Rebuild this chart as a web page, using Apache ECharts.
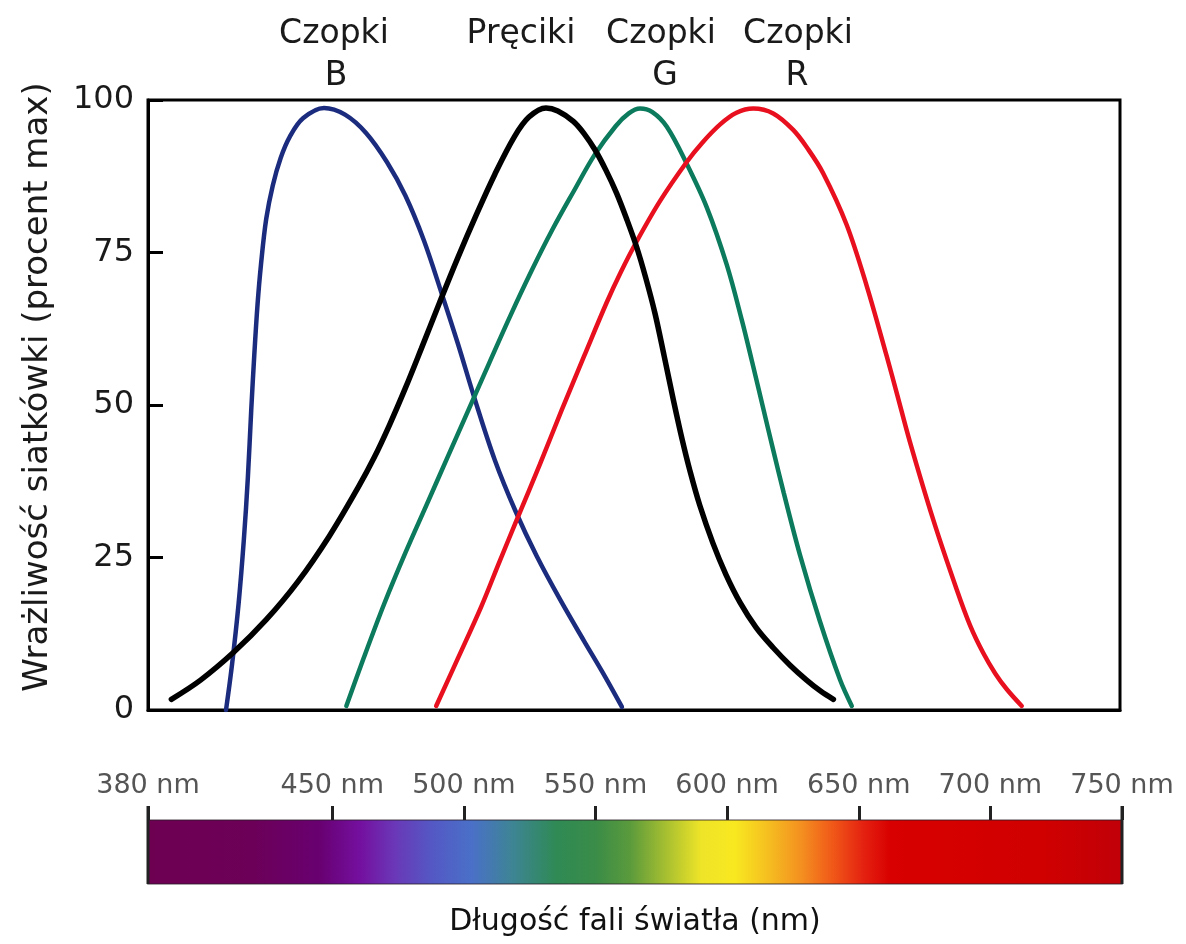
<!DOCTYPE html>
<html>
<head>
<meta charset="utf-8">
<script src="https://cdn.jsdelivr.net/npm/echarts@6/dist/echarts.min.js"></script>
<style>
html,body{margin:0;padding:0;background:#fff;}
#chart{width:1186px;height:944px;}
</style>
</head>
<body>
<div id="chart"></div>
<script>
// ---- data (wavelength nm, sensitivity % of max) ----
var coneB = [[409.7,0],[412,7.5],[414.5,17.5],[416.5,28],[418,38],[419.3,49.2],[420.5,58.5],[421.7,66.5],[423,73],[425,80.5],[427.5,86],[430.5,90.5],[434,94],[439,97],[447,98.7],[455,97.6],[463,94.6],[471,89.8],[478,84.3],[485,77],[492,68],[498,60],[504,51.5],[512,41],[520,32.5],[528,25.2],[537,18],[546,11.3],[553,6.2],[560.4,0.5]];
var rods = [[388.9,1.75],[400,4.9],[412.7,9.5],[425,14.8],[437,21],[449,28.5],[460,36.5],[466,41.3],[472,46.8],[478,52.8],[484,59.2],[491,66.8],[498,74.2],[505,81.2],[512,87.8],[519.5,94],[525,97.2],[531.5,98.7],[536,98.2],[541.9,96.5],[546,94.5],[550.2,91.8],[554.3,88.5],[558.4,84.7],[562.2,80.5],[566,75.9],[569.5,70.8],[573,65],[576.5,58],[580,50.8],[583.3,44.4],[586.3,39.2],[590,33.6],[595,27.4],[600,22.2],[605.4,17.6],[611.5,13.5],[618,10.2],[624.5,7.3],[630.7,4.9],[636,3.1],[640.9,1.75]];
var coneG = [[455.5,0.66],[462,8.4],[470,17.5],[478,25.8],[486,33.6],[494,41.4],[502,49.2],[510,57],[518,64.7],[526,72],[534,78.8],[542,85],[550,91],[558,95.7],[563,97.8],[567.3,98.6],[572,98],[577.5,95.6],[585,89.6],[592.7,82.4],[600.3,73],[606,64],[610,57],[614,49.8],[618,42.6],[622,35.6],[628.2,25.4],[635.8,14.5],[643.4,5],[647.9,0.66]];
var coneR = [[489.7,0.66],[498,8.5],[506.9,17],[513.5,24],[520.2,31],[529.2,40.3],[537.5,49.2],[546,58],[554.6,66.8],[560,71.8],[566,76.8],[575,83.5],[585,89.8],[591,93],[597.8,96],[604,97.9],[610.4,98.6],[618,97.8],[625.6,95.1],[631,92.1],[637,88],[645.9,79.6],[653.6,69.5],[661.2,58],[665,52],[670,44],[678.9,31.2],[687.8,19.8],[693,13.8],[698,9.3],[702.5,6],[706.9,3.4],[712.6,0.66]];

var yTicks = [0, 25, 50, 75, 100];
var nmTicks = [380, 450, 500, 550, 600, 650, 700, 750];

var spectrumNm =     [380, 420, 445, 461, 474, 488, 503, 518, 535, 550, 563, 577, 590, 603, 615, 628, 640, 652, 662, 720, 750];
var spectrumColors = ['#6e0052','#6c0058','#680070','#7410a0','#6a38b8','#5458c4','#4a70c8','#3e8496','#2f8a55','#3a8c48','#5a9a3c','#a8c030','#eee428','#f8e820','#f5c020','#f49020','#f05818','#e42010','#d80000','#d00000','#c00008'];

var labelTop = ['Czopki', 'Pręciki', 'Czopki', 'Czopki'];
var labelBottom = ['B', '', 'G', 'R'];
var yTitle = 'Wrażliwość siatkówki (procent max)';
var xTitle = 'Długość fali światła (nm)';

// ---- chart ----
var FONT = 'DejaVu Sans';
var chart = echarts.init(document.getElementById('chart'), null, {renderer: 'canvas'});

function line(name, data, color, width) {
  return {
    name: name, type: 'line', data: data, xAxisIndex: 0, yAxisIndex: 0,
    smooth: 0.35, showSymbol: false, symbol: 'none', animation: false,
    lineStyle: {color: color, width: width, cap: 'round'}
  };
}

var gradStops = spectrumNm.map(function (nm, i) {
  return {offset: (nm - 380) / 370, color: spectrumColors[i]};
});

var labelX = [334, 521, 661, 798];
var labelBX = [336, 0, 665, 797];
var graphics = [];
labelTop.forEach(function (t, i) {
  graphics.push({type: 'text', x: labelX[i], y: 34, style: {text: t, fill: '#1a1a1a', fontSize: 33, fontFamily: FONT, align: 'center', verticalAlign: 'middle'}});
  if (labelBottom[i]) {
    graphics.push({type: 'text', x: labelBX[i], y: 76, style: {text: labelBottom[i], fill: '#1a1a1a', fontSize: 33, fontFamily: FONT, align: 'center', verticalAlign: 'middle'}});
  }
});
graphics.push({type: 'text', x: 38, y: 387, rotation: Math.PI / 2, style: {text: yTitle, fill: '#1a1a1a', fontSize: 34, fontFamily: FONT, align: 'center', verticalAlign: 'middle'}});
graphics.push({type: 'text', x: 635, y: 922, style: {text: xTitle, fill: '#111', fontSize: 30, fontFamily: FONT, align: 'center', verticalAlign: 'middle'}});

var option = {
  backgroundColor: '#fff',
  animation: false,
  grid: [
    {left: 148, top: 100, width: 972, height: 610, show: true, borderColor: '#000', borderWidth: 3, backgroundColor: 'transparent'},
    {left: 148, top: 820, width: 974, height: 64}
  ],
  xAxis: [
    {type: 'value', gridIndex: 0, min: 380, max: 750, axisLine: {show: true, lineStyle: {color: '#000', width: 3}}, axisTick: {show: false}, axisLabel: {show: false}, splitLine: {show: false}},
    {type: 'value', gridIndex: 1, position: 'top', min: 380, max: 750,
      axisLine: {show: true, onZero: false, lineStyle: {color: 'rgba(0,0,0,0)', width: 1}},
      axisTick: {show: true, customValues: nmTicks, length: 14, lineStyle: {color: '#222', width: 3}},
      axisLabel: {show: true, customValues: nmTicks, formatter: '{value} nm', color: '#555', fontSize: 27, fontFamily: FONT, margin: 21},
      splitLine: {show: false}}
  ],
  yAxis: [
    {type: 'value', gridIndex: 0, min: 0, max: 100, interval: 25,
      axisLine: {show: true, lineStyle: {color: '#000', width: 3}},
      axisTick: {show: true, inside: true, length: 15, lineStyle: {color: '#000', width: 3}},
      axisLabel: {color: '#1a1a1a', fontSize: 32, fontFamily: FONT, margin: 14},
      splitLine: {show: false}},
    {type: 'value', gridIndex: 1, min: 0, max: 1, show: false}
  ],
  graphic: graphics,
  series: [
    {
      type: 'custom', xAxisIndex: 1, yAxisIndex: 1, data: [[380, 750]], animation: false, silent: true,
      renderItem: function (params, api) {
        var p0 = api.coord([api.value(0), 1]);
        var p1 = api.coord([api.value(1), 0]);
        return {
          type: 'group',
          children: [
            {type: 'rect', shape: {x: p0[0], y: p0[1], width: p1[0] - p0[0], height: p1[1] - p0[1]},
              style: {fill: new echarts.graphic.LinearGradient(0, 0, 1, 0, gradStops), stroke: 'rgba(40,30,40,0.55)', lineWidth: 1.5}},
            {type: 'line', shape: {x1: p0[0], y1: p0[1] - 14, x2: p0[0], y2: p1[1]}, style: {stroke: '#222', lineWidth: 3}},
            {type: 'line', shape: {x1: p1[0], y1: p0[1] - 14, x2: p1[0], y2: p1[1]}, style: {stroke: '#222', lineWidth: 3}}
          ]
        };
      }
    },
    line('Czopki B', coneB, '#1b2c7e', 4.5),
    line('Czopki G', coneG, '#0c7a5c', 4.5),
    line('Czopki R', coneR, '#e8101e', 4.5),
    line('Pręciki', rods, '#000000', 5.5)
  ]
};
chart.setOption(option);
</script>
</body>
</html>
